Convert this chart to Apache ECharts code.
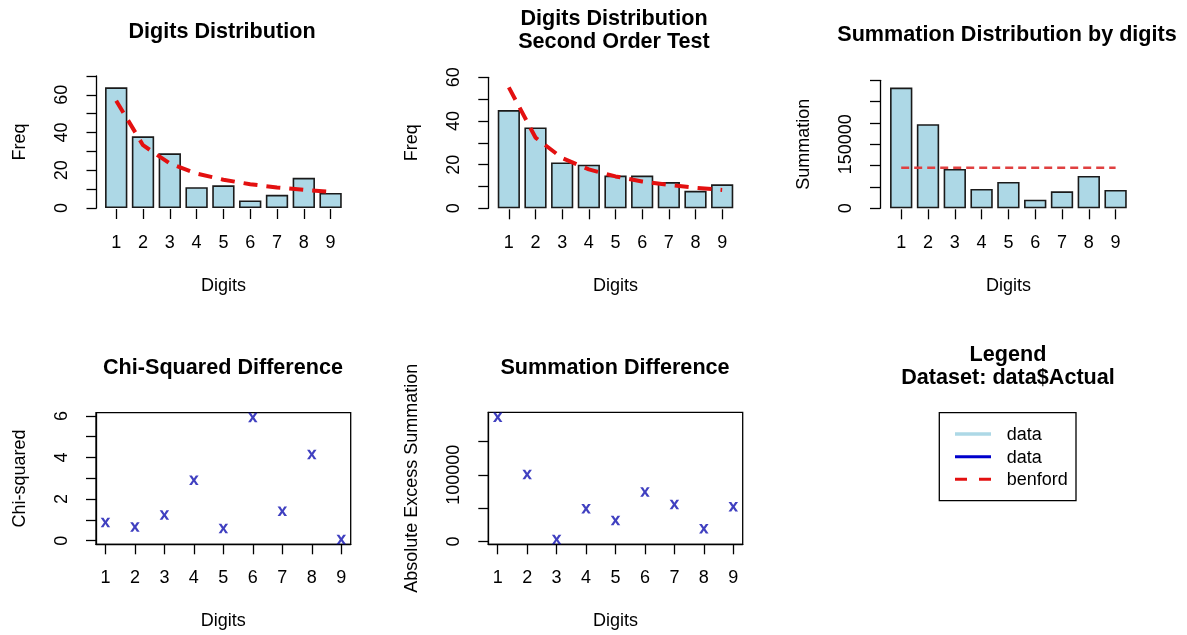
<!DOCTYPE html>
<html>
<head>
<meta charset="utf-8">
<script src="https://cdn.jsdelivr.net/npm/echarts@6/dist/echarts.min.js"></script>
<style>
  html, body { margin: 0; padding: 0; background: #fff; }
  #chart { width: 1187px; height: 635px; }
</style>
</head>
<body>
<div id="chart"></div>
<script>
// ---------- data ----------
const digits = [1, 2, 3, 4, 5, 6, 7, 8, 9];
const freqFirst = [64, 38, 29, 11, 12, 4, 7, 16, 8];
const benfordFirst = [56.9, 33.3, 23.6, 18.3, 15.0, 12.6, 10.9, 9.6, 8.6];
const freqSecond = [45, 37, 21, 20, 15, 15, 12, 8, 11];
const benfordSecond = [55.4, 32.4, 23.0, 17.8, 14.6, 12.3, 10.7, 9.4, 8.4];
const summation = [283000, 197000, 92100, 45200, 61600, 20200, 39800, 75700, 42900];
const summationBenford = [95300, 95300, 95300, 95300, 95300, 95300, 95300, 95300, 95300];
const chiSquared = [0.88, 0.66, 1.23, 2.91, 0.59, 5.92, 1.41, 4.15, 0.06];
const absExcess = [186400, 100500, 3000, 49000, 31500, 74000, 55500, 19000, 52000];

// ---------- tick values / labels ----------
const freqTicksFirst = [0, 10, 20, 30, 40, 50, 60, 70];
const freqLabelsFirst = [0, 20, 40, 60];
const freqTicksSecond = [0, 10, 20, 30, 40, 50, 60];
const freqLabelsSecond = [0, 20, 40, 60];
const sumTicks = [0, 50000, 100000, 150000, 200000, 250000, 300000];
const sumLabels = [0, 150000];
const chiTicks = [0, 1, 2, 3, 4, 5, 6];
const chiLabels = [0, 2, 4, 6];
const excessTicks = [0, 50000, 100000, 150000];
const excessLabels = [0, 100000];

// ---------- styling ----------
const FONT = "'Liberation Sans', Arial, Helvetica, sans-serif";
const TICK_FS = 18;
const NAME_FS = 18;
const TITLE_FS = 21.6;
const BAR_COLOR = '#ADD8E6';
const RED = '#e31010';
const BLUE = '#1010b0';
const X_PATH = 'path://M0,0 H2.9 L5,3.2 L7.1,0 H10 L6.5,5 L10,10 H7.1 L5,6.8 L2.9,10 H0 L3.5,5 Z';

const lineSty = { color: '#000', width: 1.3 };
const extend = {
  min: v => v.min - 0.04 * (v.max - v.min),
  max: v => v.max + 0.04 * (v.max - v.min)
};

function catX(gridIndex) {
  return {
    type: 'category', gridIndex, data: digits.map(String), offset: 1,
    axisLine: { show: false, onZero: false },
    axisTick: { show: true, alignWithLabel: true, length: 10, lineStyle: lineSty },
    axisLabel: { interval: 0, margin: 25, fontSize: TICK_FS, color: '#000', fontFamily: FONT },
    splitLine: { show: false },
    name: 'Digits', nameLocation: 'middle', nameGap: 68,
    nameTextStyle: { fontSize: NAME_FS, color: '#000', fontFamily: FONT }
  };
}
function valX(gridIndex) {
  return {
    type: 'value', gridIndex, min: extend.min, max: extend.max,
    axisLine: { show: true, onZero: false, lineStyle: lineSty },
    axisTick: { show: true, length: 10, lineStyle: lineSty, customValues: digits },
    axisLabel: { margin: 25, fontSize: TICK_FS, color: '#000', fontFamily: FONT, customValues: digits },
    splitLine: { show: false },
    name: 'Digits', nameLocation: 'middle', nameGap: 68,
    nameTextStyle: { fontSize: NAME_FS, color: '#000', fontFamily: FONT }
  };
}
function valY(gridIndex, name, ticks, labels, range, offset) {
  return Object.assign({
    type: 'value', gridIndex, offset,
    axisLine: { show: true, onZero: false, lineStyle: lineSty },
    axisTick: { show: true, length: 10, lineStyle: lineSty, customValues: ticks },
    axisLabel: {
      rotate: 90, margin: 25, fontSize: TICK_FS, color: '#000', fontFamily: FONT,
      customValues: labels, formatter: v => String(v)
    },
    splitLine: { show: false },
    name, nameLocation: 'middle', nameGap: 67,
    nameTextStyle: { fontSize: NAME_FS, color: '#000', fontFamily: FONT }
  }, range);
}
function title(text, cx, cy, lh) {
  return {
    text, left: cx, top: cy, textAlign: 'center', textVerticalAlign: 'middle', padding: 0,
    textStyle: { fontSize: TITLE_FS, fontWeight: 'bold', color: '#000', fontFamily: FONT, lineHeight: lh || 23 }
  };
}

const option = {
  animation: false,
  backgroundColor: '#fff',
  title: [
    title('Digits Distribution', 222, 32),
    title('Digits Distribution\nSecond Order Test', 614, 30.5),
    title('Summation Distribution by digits', 1007, 35),
    title('Chi-Squared Difference', 223, 368),
    title('Summation Difference', 615, 368),
    title('Legend', 1008, 355),
    title('Dataset: data$Actual', 1008, 378.5)
  ],
  grid: [
    { left: 102.8, top: 76, width: 241.2, height: 132 },
    { left: 495.5, top: 77.3, width: 240, height: 131 },
    { left: 887.8, top: 80.3, width: 241.2, height: 128 },
    { left: 96, top: 412.7, width: 254.7, height: 131.6, show: true, borderColor: '#000', borderWidth: 1.3 },
    { left: 488.3, top: 412.3, width: 254.4, height: 132, show: true, borderColor: '#000', borderWidth: 1.3 }
  ],
  xAxis: [catX(0), catX(1), catX(2), valX(3), valX(4)],
  yAxis: [
    valY(0, 'Freq', freqTicksFirst, freqLabelsFirst,
      { min: freqTicksFirst[0], max: freqTicksFirst[freqTicksFirst.length - 1] }, 6.3),
    valY(1, 'Freq', freqTicksSecond, freqLabelsSecond,
      { min: freqTicksSecond[0], max: freqTicksSecond[freqTicksSecond.length - 1] }, 7.2),
    valY(2, 'Summation', sumTicks, sumLabels,
      { min: sumTicks[0], max: sumTicks[sumTicks.length - 1] }, 7.8),
    valY(3, 'Chi-squared', chiTicks, chiLabels, extend, 0),
    valY(4, 'Absolute Excess Summation', excessTicks, excessLabels, extend, 0)
  ],
  series: [
    { name: 'data', type: 'bar', xAxisIndex: 0, yAxisIndex: 0, data: freqFirst, barCategoryGap: '16.67%',
      itemStyle: { color: BAR_COLOR, borderColor: '#1a1a1a', borderWidth: 1.6 } },
    { name: 'benford', type: 'line', xAxisIndex: 0, yAxisIndex: 0, data: benfordFirst, symbol: 'none',
      lineStyle: { color: RED, width: 4, type: [14, 9] } },
    { name: 'data', type: 'bar', xAxisIndex: 1, yAxisIndex: 1, data: freqSecond, barCategoryGap: '16.67%',
      itemStyle: { color: BAR_COLOR, borderColor: '#1a1a1a', borderWidth: 1.6 } },
    { name: 'benford', type: 'line', xAxisIndex: 1, yAxisIndex: 1, data: benfordSecond, symbol: 'none',
      lineStyle: { color: RED, width: 4, type: [14, 9] } },
    { name: 'data', type: 'bar', xAxisIndex: 2, yAxisIndex: 2, data: summation, barCategoryGap: '16.67%',
      itemStyle: { color: BAR_COLOR, borderColor: '#1a1a1a', borderWidth: 1.6 } },
    { name: 'benford', type: 'line', xAxisIndex: 2, yAxisIndex: 2, data: summationBenford, symbol: 'none',
      lineStyle: { color: '#e04040', width: 2.5, type: [8, 5] } },
    { name: 'data', type: 'scatter', xAxisIndex: 3, yAxisIndex: 3,
      data: digits.map((d, i) => [d, chiSquared[i]]),
      symbol: X_PATH, symbolSize: [9.5, 9.5], itemStyle: { color: BLUE } },
    { name: 'data', type: 'scatter', xAxisIndex: 4, yAxisIndex: 4,
      data: digits.map((d, i) => [d, absExcess[i]]),
      symbol: X_PATH, symbolSize: [9.5, 9.5], itemStyle: { color: BLUE } }
  ],
  graphic: [
    { type: 'rect', shape: { x: 939.3, y: 412.7, width: 136.7, height: 88 },
      style: { fill: 'none', stroke: '#000', lineWidth: 1.3 } },
    { type: 'line', shape: { x1: 955, y1: 434, x2: 991, y2: 434 },
      style: { stroke: BAR_COLOR, lineWidth: 3.5 } },
    { type: 'line', shape: { x1: 955, y1: 456.7, x2: 991, y2: 456.7 },
      style: { stroke: '#0000cc', lineWidth: 3 } },
    { type: 'line', shape: { x1: 955, y1: 479.3, x2: 991, y2: 479.3 },
      style: { stroke: RED, lineWidth: 3, lineDash: [12, 12] } },
    { type: 'text', x: 1006.7, y: 435.5,
      style: { text: 'data', fontSize: NAME_FS, fontFamily: FONT, fill: '#000', textVerticalAlign: 'middle' } },
    { type: 'text', x: 1006.7, y: 458,
      style: { text: 'data', fontSize: NAME_FS, fontFamily: FONT, fill: '#000', textVerticalAlign: 'middle' } },
    { type: 'text', x: 1006.7, y: 480.5,
      style: { text: 'benford', fontSize: NAME_FS, fontFamily: FONT, fill: '#000', textVerticalAlign: 'middle' } }
  ]
};

const chart = echarts.init(document.getElementById('chart'), null, { renderer: 'canvas' });
chart.setOption(option);
</script>
</body>
</html>
